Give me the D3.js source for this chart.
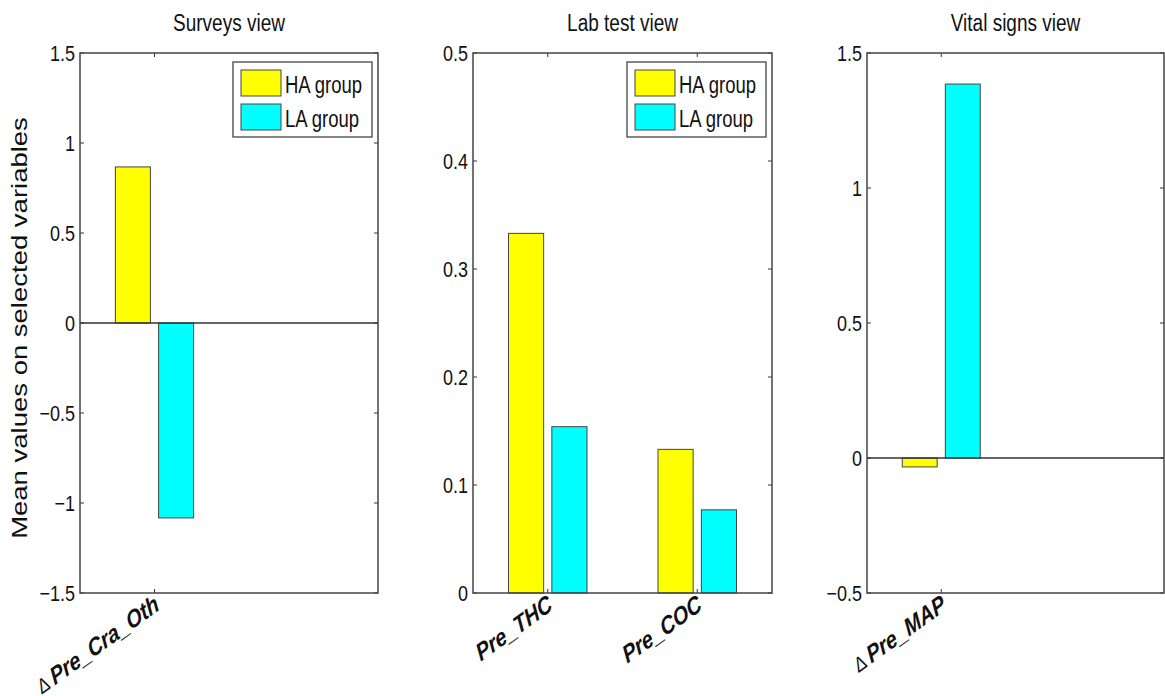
<!DOCTYPE html>
<html>
<head>
<meta charset="utf-8">
<script src="https://cdn.jsdelivr.net/npm/d3@7"></script>
<style>
  body { margin: 0; background: #fff; }
  svg { display: block; font-family: "Liberation Sans", Arial, sans-serif; }
</style>
</head>
<body>
<svg id="chart" width="1165" height="696"></svg>
<script>
// ---- data ----
var panelTitles = ["Surveys view", "Lab test view", "Vital signs view"];

var surveyLabels = ["Pre_Cra_Oth"];
var surveyDelta = [true];
var surveyHA = [0.867];
var surveyLA = [-1.083];

var labLabels = ["Pre_THC", "Pre_COC"];
var labDelta = [false, false];
var labHA = [0.333, 0.133];
var labLA = [0.154, 0.077];

var vitalLabels = ["Pre_MAP"];
var vitalDelta = [true];
var vitalHA = [-0.033];
var vitalLA = [1.385];

var surveyTicks = [-1.5, -1, -0.5, 0, 0.5, 1, 1.5];
var labTicks = [0, 0.1, 0.2, 0.3, 0.4, 0.5];
var vitalTicks = [-0.5, 0, 0.5, 1, 1.5];

var seriesNames = ["HA group", "LA group"];
var seriesColors = ["#ffff00", "#00ffff"];

var yLabel = "Mean values on selected variables";

// ---- layout ----
var K = 1.25;          // the picture is stretched vertically
var plotTop = 53, plotBottom = 593;
var panels = [
    {title: panelTitles[0], labels: surveyLabels, delta: surveyDelta, ha: surveyHA, la: surveyLA,
     ticks: surveyTicks, left: 80, right: 378, legend: true, zeroLine: true},
    {title: panelTitles[1], labels: labLabels, delta: labDelta, ha: labHA, la: labLA,
     ticks: labTicks, left: 473, right: 772, legend: true, zeroLine: false},
    {title: panelTitles[2], labels: vitalLabels, delta: vitalDelta, ha: vitalHA, la: vitalLA,
     ticks: vitalTicks, left: 867, right: 1164, legend: false, zeroLine: true}
];

var svg = d3.select("#chart");
var fmt = d3.format("");

function stretchedText(g, x, y, str, size, angle) {
    return g.append("text")
        .attr("transform", "translate(" + x + "," + y + ") scale(1," + K + ")" + (angle ? " rotate(" + angle + ")" : ""))
        .style("font-size", size + "px")
        .attr("fill", "#111")
        .text(str);
}

panels.forEach(function(p) {
    var g = svg.append("g");

    var x = d3.scaleLinear().domain([0.5, 2.5]).range([p.left, p.right]);
    var y = d3.scaleLinear().domain(d3.extent(p.ticks)).range([plotBottom, plotTop]);
    var barW = x(0.235) - x(0);
    var offsets = [-0.145, 0.145];

    // bars
    [p.ha, p.la].forEach(function(vals, s) {
        g.selectAll(null)
            .data(vals)
            .enter().append("rect")
            .attr("x", function(d, i) { return x(i + 1 + offsets[s]) - barW / 2; })
            .attr("y", function(d) { return y(Math.max(0, d)); })
            .attr("width", barW)
            .attr("height", function(d) { return Math.abs(y(d) - y(0)); })
            .attr("fill", seriesColors[s])
            .attr("stroke", "#444")
            .attr("stroke-width", 1);
    });

    // bar baseline
    if (p.zeroLine) {
        g.append("line")
            .attr("x1", p.left).attr("x2", p.right)
            .attr("y1", y(0)).attr("y2", y(0))
            .attr("stroke", "#333").attr("stroke-width", 1.3);
    }

    // y ticks both sides, pointing inward
    var yt = g.append("g");
    p.ticks.forEach(function(t) {
        yt.append("line").attr("x1", p.left).attr("x2", p.left + 4)
            .attr("y1", y(t)).attr("y2", y(t)).attr("stroke", "#333");
        yt.append("line").attr("x1", p.right - 4).attr("x2", p.right)
            .attr("y1", y(t)).attr("y2", y(t)).attr("stroke", "#333");
        stretchedText(yt, p.left - 5, y(t) + 8, fmt(t), 18)
            .attr("text-anchor", "end");
    });

    // x ticks top and bottom
    p.labels.forEach(function(lab, i) {
        var tx = x(i + 1);
        g.append("line").attr("x1", tx).attr("x2", tx)
            .attr("y1", plotBottom).attr("y2", plotBottom - 4).attr("stroke", "#333");
        g.append("line").attr("x1", tx).attr("x2", tx)
            .attr("y1", plotTop).attr("y2", plotTop + 4).attr("stroke", "#333");
        var t = stretchedText(g, tx + 6, plotBottom + 16, null, 20, -30)
            .attr("text-anchor", "end")
            .style("font-weight", "bold")
            .style("font-style", "italic");
        if (p.delta[i]) {
            t.append("tspan").style("font-size", "17px")
                .style("font-weight", "normal").style("font-style", "normal")
                .text("\u0394 ");
        }
        t.append("tspan").text(lab);
    });

    // axes box
    g.append("rect")
        .attr("x", p.left).attr("y", plotTop)
        .attr("width", p.right - p.left).attr("height", plotBottom - plotTop)
        .attr("fill", "none").attr("stroke", "#444").attr("stroke-width", 1.5);

    // title
    stretchedText(g, (p.left + p.right) / 2, 31, p.title, 19)
        .attr("text-anchor", "middle");

    // legend
    if (p.legend) {
        var lx = p.right - 145, ly = 62;
        var lg = g.append("g");
        lg.append("rect").attr("x", lx).attr("y", ly).attr("width", 139).attr("height", 75)
            .attr("fill", "#fff").attr("stroke", "#444").attr("stroke-width", 1.3);
        seriesNames.forEach(function(name, s) {
            lg.append("rect")
                .attr("x", lx + 8).attr("y", ly + 8 + s * 34)
                .attr("width", 40).attr("height", 26)
                .attr("fill", seriesColors[s]).attr("stroke", "#444").attr("stroke-width", 1);
            stretchedText(lg, lx + 52, ly + 31 + s * 34, name, 18.5);
        });
    }
});

// shared y axis title
stretchedText(svg, 27, 328, yLabel, 22, -90)
    .attr("text-anchor", "middle");
</script>
</body>
</html>
